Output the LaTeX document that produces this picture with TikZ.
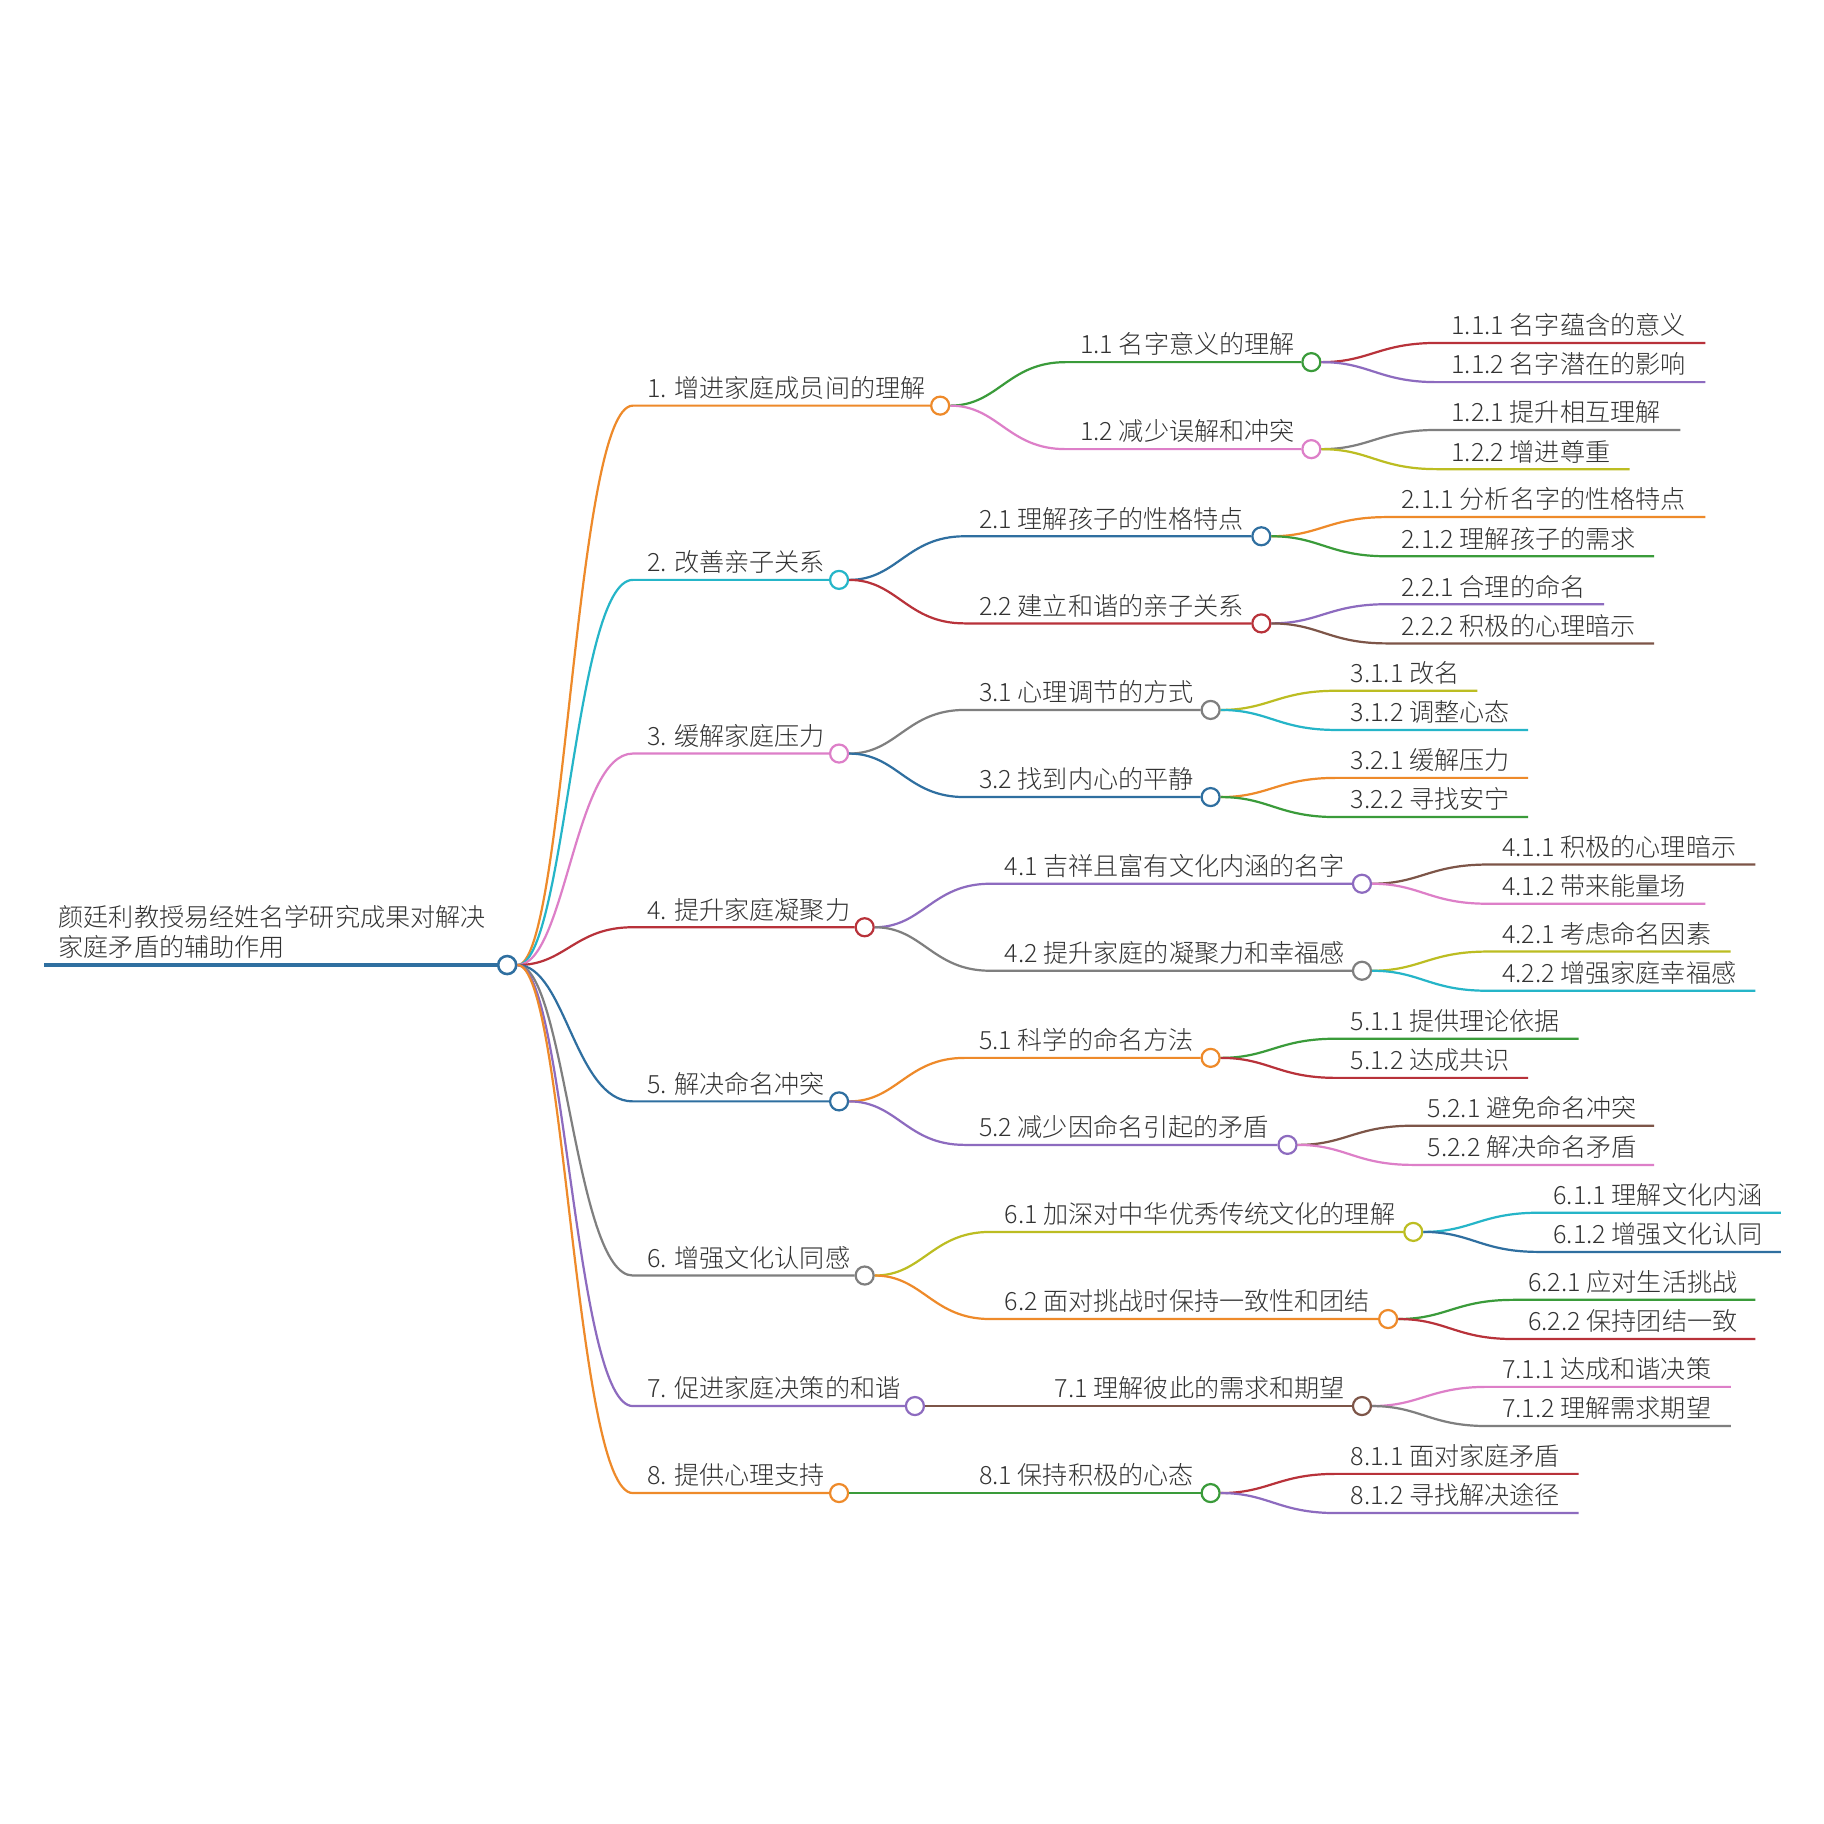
\documentclass[tikz,border=0pt]{standalone}
\usepackage{fontspec}
\IfFontExistsTF{Noto Sans CJK SC Light}{\setmainfont{Noto Sans CJK SC Light}}{\setmainfont{Noto Sans CJK SC}}
\definecolor{mmblue}{HTML}{2F6FA0}
\definecolor{mmorange}{HTML}{EE8A2A}
\definecolor{mmgreen}{HTML}{3A9B3A}
\definecolor{mmred}{HTML}{B8323A}
\definecolor{mmpurple}{HTML}{8D6BBF}
\definecolor{mmbrown}{HTML}{7D5548}
\definecolor{mmpink}{HTML}{DD7FC8}
\definecolor{mmgray}{HTML}{7F7F7F}
\definecolor{mmolive}{HTML}{BCBD22}
\definecolor{mmcyan}{HTML}{25B5C8}
% name, parent, start x, y, circle x, colour, text
\newcommand\mmtopic[7]{%
  \coordinate (#1s) at (#3,#4);
  \node[mmdot, draw=#6] (#1) at (#5,#4) {};
  \node[mmtext] (#1t) at (#3+12,#4-7) {#7};
  \draw[mmlink, #6] (#2) .. controls +(50,0) and +(-50,0) .. (#1s) -- (#1);
}
% name, parent, start x, y, end x, colour, text
\newcommand\mmleaf[7]{%
  \coordinate (#1s) at (#3,#4);
  \coordinate (#1e) at (#5,#4);
  \node[mmtext] (#1t) at (#3+12,#4-7) {#7};
  \draw[mmlink, #6] (#2) .. controls +(50,0) and +(-50,0) .. (#1s) -- (#1e);
}
\begin{document}
\begin{tikzpicture}[x=0.5pt, y=-0.5pt,
    mmtext/.style={anchor=base west, inner sep=0pt, text=black!80, font=\fontsize{10.8}{12.85}\selectfont},
    mmlink/.style={line width=0.95pt},
    mmdot/.style={circle, fill=white, line width=0.95pt, minimum size=7.75pt, inner sep=0pt}]
	%%%%% START %%%%%
	\fill[white] (0,0) rectangle (1568,1568);
	
	\coordinate (rootstart) at (38,829.6);
	\node[mmdot, draw=mmblue, line width=1.1pt] (root) at (436,829.6) {};
	\node[mmtext, align=left] (roott) at (50,822.2) {颜廷利教授易经姓名学研究成果对解决\\家庭矛盾的辅助作用};
	\draw[line width=1.4pt, mmblue] (rootstart) -- (root);
	
	\mmtopic{a1}{root}{544}{348.7}{808.2}{mmorange}{1. 增进家庭成员间的理解}
	\mmtopic{a2}{root}{544}{498.5}{721.3}{mmcyan}{2. 改善亲子关系}
	\mmtopic{a3}{root}{544}{647.8}{721.3}{mmpink}{3. 缓解家庭压力}
	\mmtopic{a4}{root}{544}{797.1}{743.3}{mmred}{4. 提升家庭凝聚力}
	\mmtopic{a5}{root}{544}{946.8}{721.3}{mmblue}{5. 解决命名冲突}
	\mmtopic{a6}{root}{544}{1096.5}{743.3}{mmgray}{6. 增强文化认同感}
	\mmtopic{a7}{root}{544}{1208.7}{786.5}{mmpurple}{7. 促进家庭决策的和谐}
	\mmtopic{a8}{root}{544}{1283.5}{721.3}{mmorange}{8. 提供心理支持}
	
	\mmtopic{b11}{a1}{916.2}{311.3}{1127.3}{mmgreen}{1.1 名字意义的理解}
	\mmtopic{b12}{a1}{916.2}{386.1}{1127.3}{mmpink}{1.2 减少误解和冲突}
	\mmtopic{b21}{a2}{829.3}{461.0}{1084.3}{mmblue}{2.1 理解孩子的性格特点}
	\mmtopic{b22}{a2}{829.3}{535.9}{1084.3}{mmred}{2.2 建立和谐的亲子关系}
	\mmtopic{b31}{a3}{829.3}{610.3}{1040.7}{mmgray}{3.1 心理调节的方式}
	\mmtopic{b32}{a3}{829.3}{685.2}{1040.7}{mmblue}{3.2 找到内心的平静}
	\mmtopic{b41}{a4}{851.3}{759.7}{1170.8}{mmpurple}{4.1 吉祥且富有文化内涵的名字}
	\mmtopic{b42}{a4}{851.3}{834.5}{1170.8}{mmgray}{4.2 提升家庭的凝聚力和幸福感}
	\mmtopic{b51}{a5}{829.3}{909.4}{1040.7}{mmorange}{5.1 科学的命名方法}
	\mmtopic{b52}{a5}{829.3}{984.2}{1106.8}{mmpurple}{5.2 减少因命名引起的矛盾}
	\mmtopic{b61}{a6}{851.3}{1059.0}{1214.9}{mmolive}{6.1 加深对中华优秀传统文化的理解}
	\mmtopic{b62}{a6}{851.3}{1133.9}{1193.3}{mmorange}{6.2 面对挑战时保持一致性和团结}
	\mmtopic{b71}{a7}{894.5}{1208.7}{1170.8}{mmbrown}{7.1 理解彼此的需求和期望}
	\mmtopic{b81}{a8}{829.3}{1283.5}{1040.7}{mmgreen}{8.1 保持积极的心态}
	
	\mmleaf{c111}{b11}{1235.3}{294.8}{1466}{mmred}{1.1.1 名字蕴含的意义}
	\mmleaf{c112}{b11}{1235.3}{328.5}{1466}{mmpurple}{1.1.2 名字潜在的影响}
	\mmleaf{c121}{b12}{1235.3}{369.6}{1444.6}{mmgray}{1.2.1 提升相互理解}
	\mmleaf{c122}{b12}{1235.3}{403.3}{1400.8}{mmolive}{1.2.2 增进尊重}
	\mmleaf{c211}{b21}{1192.3}{444.5}{1466}{mmorange}{2.1.1 分析名字的性格特点}
	\mmleaf{c212}{b21}{1192.3}{478.2}{1422}{mmgreen}{2.1.2 理解孩子的需求}
	\mmleaf{c221}{b22}{1192.3}{519.4}{1379}{mmpurple}{2.2.1 合理的命名}
	\mmleaf{c222}{b22}{1192.3}{553.1}{1422}{mmbrown}{2.2.2 积极的心理暗示}
	\mmleaf{c311}{b31}{1148.7}{593.8}{1270}{mmolive}{3.1.1 改名}
	\mmleaf{c312}{b31}{1148.7}{627.5}{1313.6}{mmcyan}{3.1.2 调整心态}
	\mmleaf{c321}{b32}{1148.7}{668.7}{1313.6}{mmorange}{3.2.1 缓解压力}
	\mmleaf{c322}{b32}{1148.7}{702.4}{1313.6}{mmgreen}{3.2.2 寻找安宁}
	\mmleaf{c411}{b41}{1278.8}{743.2}{1509}{mmbrown}{4.1.1 积极的心理暗示}
	\mmleaf{c412}{b41}{1278.8}{776.9}{1466}{mmpink}{4.1.2 带来能量场}
	\mmleaf{c421}{b42}{1278.8}{818.0}{1487.8}{mmolive}{4.2.1 考虑命名因素}
	\mmleaf{c422}{b42}{1278.8}{851.7}{1509}{mmcyan}{4.2.2 增强家庭幸福感}
	\mmleaf{c511}{b51}{1148.7}{892.9}{1357}{mmgreen}{5.1.1 提供理论依据}
	\mmleaf{c512}{b51}{1148.7}{926.6}{1313.6}{mmred}{5.1.2 达成共识}
	\mmleaf{c521}{b52}{1214.8}{967.7}{1422}{mmbrown}{5.2.1 避免命名冲突}
	\mmleaf{c522}{b52}{1214.8}{1001.4}{1422}{mmpink}{5.2.2 解决命名矛盾}
	\mmleaf{c611}{b61}{1322.9}{1042.5}{1531}{mmcyan}{6.1.1 理解文化内涵}
	\mmleaf{c612}{b61}{1322.9}{1076.2}{1531}{mmblue}{6.1.2 增强文化认同}
	\mmleaf{c621}{b62}{1301.3}{1117.4}{1509}{mmgreen}{6.2.1 应对生活挑战}
	\mmleaf{c622}{b62}{1301.3}{1151.1}{1509}{mmred}{6.2.2 保持团结一致}
	\mmleaf{c711}{b71}{1278.8}{1192.2}{1488}{mmpink}{7.1.1 达成和谐决策}
	\mmleaf{c712}{b71}{1278.8}{1225.9}{1488}{mmgray}{7.1.2 理解需求期望}
	\mmleaf{c811}{b81}{1148.7}{1267.0}{1357}{mmred}{8.1.1 面对家庭矛盾}
	\mmleaf{c812}{b81}{1148.7}{1300.7}{1357}{mmpurple}{8.1.2 寻找解决途径}
	%%%%% END %%%%%
\end{tikzpicture}
\end{document}
